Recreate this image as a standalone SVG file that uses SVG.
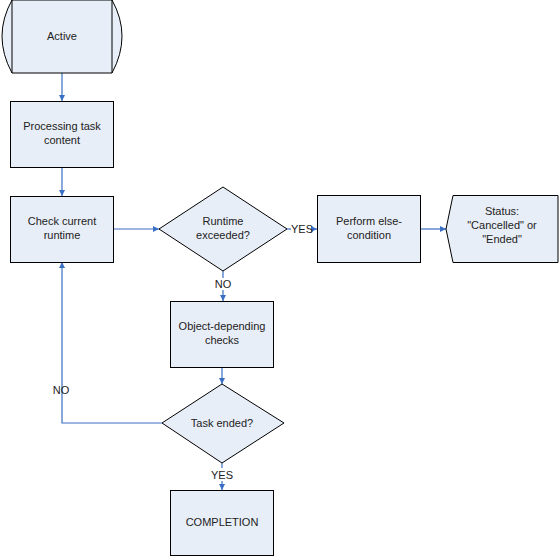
<svg xmlns="http://www.w3.org/2000/svg" width="559" height="556" viewBox="0 0 559 556">
<defs>
<style>
.n{fill:#E8EEF8;stroke:#000;stroke-width:1}
.t{font-family:"Liberation Sans",Arial,sans-serif;font-size:11px;fill:#222;text-anchor:middle}
.c{fill:none;stroke:#3A6FC4;stroke-width:1.2}
</style>
<marker id="a" viewBox="0 0 10 10" refX="10" refY="5" markerWidth="6" markerHeight="6" orient="auto" markerUnits="userSpaceOnUse">
<path d="M0,0 L10,5 L0,10 z" fill="#3A6FC4"/>
</marker>
</defs>
<rect width="559" height="556" fill="#fff"/>
<g id="connectors">
<line class="c" x1="62" y1="73" x2="62" y2="101" marker-end="url(#a)"/>
<line class="c" x1="62" y1="167" x2="62" y2="196" marker-end="url(#a)"/>
<line class="c" x1="114" y1="229" x2="159" y2="229" marker-end="url(#a)"/>
<line class="c" x1="287" y1="229" x2="291" y2="229"/>
<line class="c" x1="313" y1="229" x2="317" y2="229" marker-end="url(#a)"/>
<line class="c" x1="421" y1="229" x2="446" y2="229" marker-end="url(#a)"/>
<line class="c" x1="223" y1="271" x2="223" y2="278"/>
<line class="c" x1="223" y1="290" x2="223" y2="301" marker-end="url(#a)"/>
<line class="c" x1="222" y1="367" x2="222" y2="384" marker-end="url(#a)"/>
<line class="c" x1="222" y1="463" x2="222" y2="468"/>
<line class="c" x1="222" y1="481" x2="222" y2="490" marker-end="url(#a)"/>
<polyline class="c" points="162,423 62,423 62,262" marker-end="url(#a)"/>
<text class="t" x="302" y="233">YES</text>
<text class="t" x="223" y="288">NO</text>
<text class="t" x="222" y="479">YES</text>
<text class="t" x="61" y="394">NO</text>
</g>
<g id="active">
<path class="n" d="M12,0 L112,0 Q132,36 112,73 L12,73 Q-8,36 12,0 z"/>
<line x1="12" y1="0" x2="12" y2="73" stroke="#000"/>
<line x1="112" y1="0" x2="112" y2="73" stroke="#000"/>
<text class="t" x="62" y="40">Active</text>
</g>
<g id="processing">
<rect class="n" x="10.5" y="101.5" width="103" height="66"/>
<text class="t" x="62" y="130">Processing task</text>
<text class="t" x="62" y="144">content</text>
</g>
<g id="check">
<rect class="n" x="10.5" y="196.5" width="103" height="66"/>
<text class="t" x="62" y="225">Check current</text>
<text class="t" x="62" y="239">runtime</text>
</g>
<g id="runtime">
<polygon class="n" points="223,187 287,229 223,271 159,229"/>
<text class="t" x="223" y="225">Runtime</text>
<text class="t" x="223" y="239">exceeded?</text>
</g>
<g id="else">
<rect class="n" x="317.5" y="195.5" width="103" height="67"/>
<text class="t" x="369" y="225">Perform else-</text>
<text class="t" x="369" y="239">condition</text>
</g>
<g id="status">
<path class="n" d="M453,195.5 L558,195.5 L558,262.5 L453,262.5 L446,229 z"/>
<text class="t" x="502" y="215">Status:</text>
<text class="t" x="502" y="229">"Cancelled" or</text>
<text class="t" x="502" y="243">"Ended"</text>
</g>
<g id="object">
<rect class="n" x="170.5" y="301.5" width="103" height="66"/>
<text class="t" x="222" y="330">Object-depending</text>
<text class="t" x="222" y="344">checks</text>
</g>
<g id="taskended">
<polygon class="n" points="222,384 284,423 222,463 162,423"/>
<text class="t" x="222" y="427">Task ended?</text>
</g>
<g id="completion">
<rect class="n" x="170.5" y="490.5" width="103" height="65"/>
<text class="t" x="222" y="526">COMPLETION</text>
</g>
</svg>
